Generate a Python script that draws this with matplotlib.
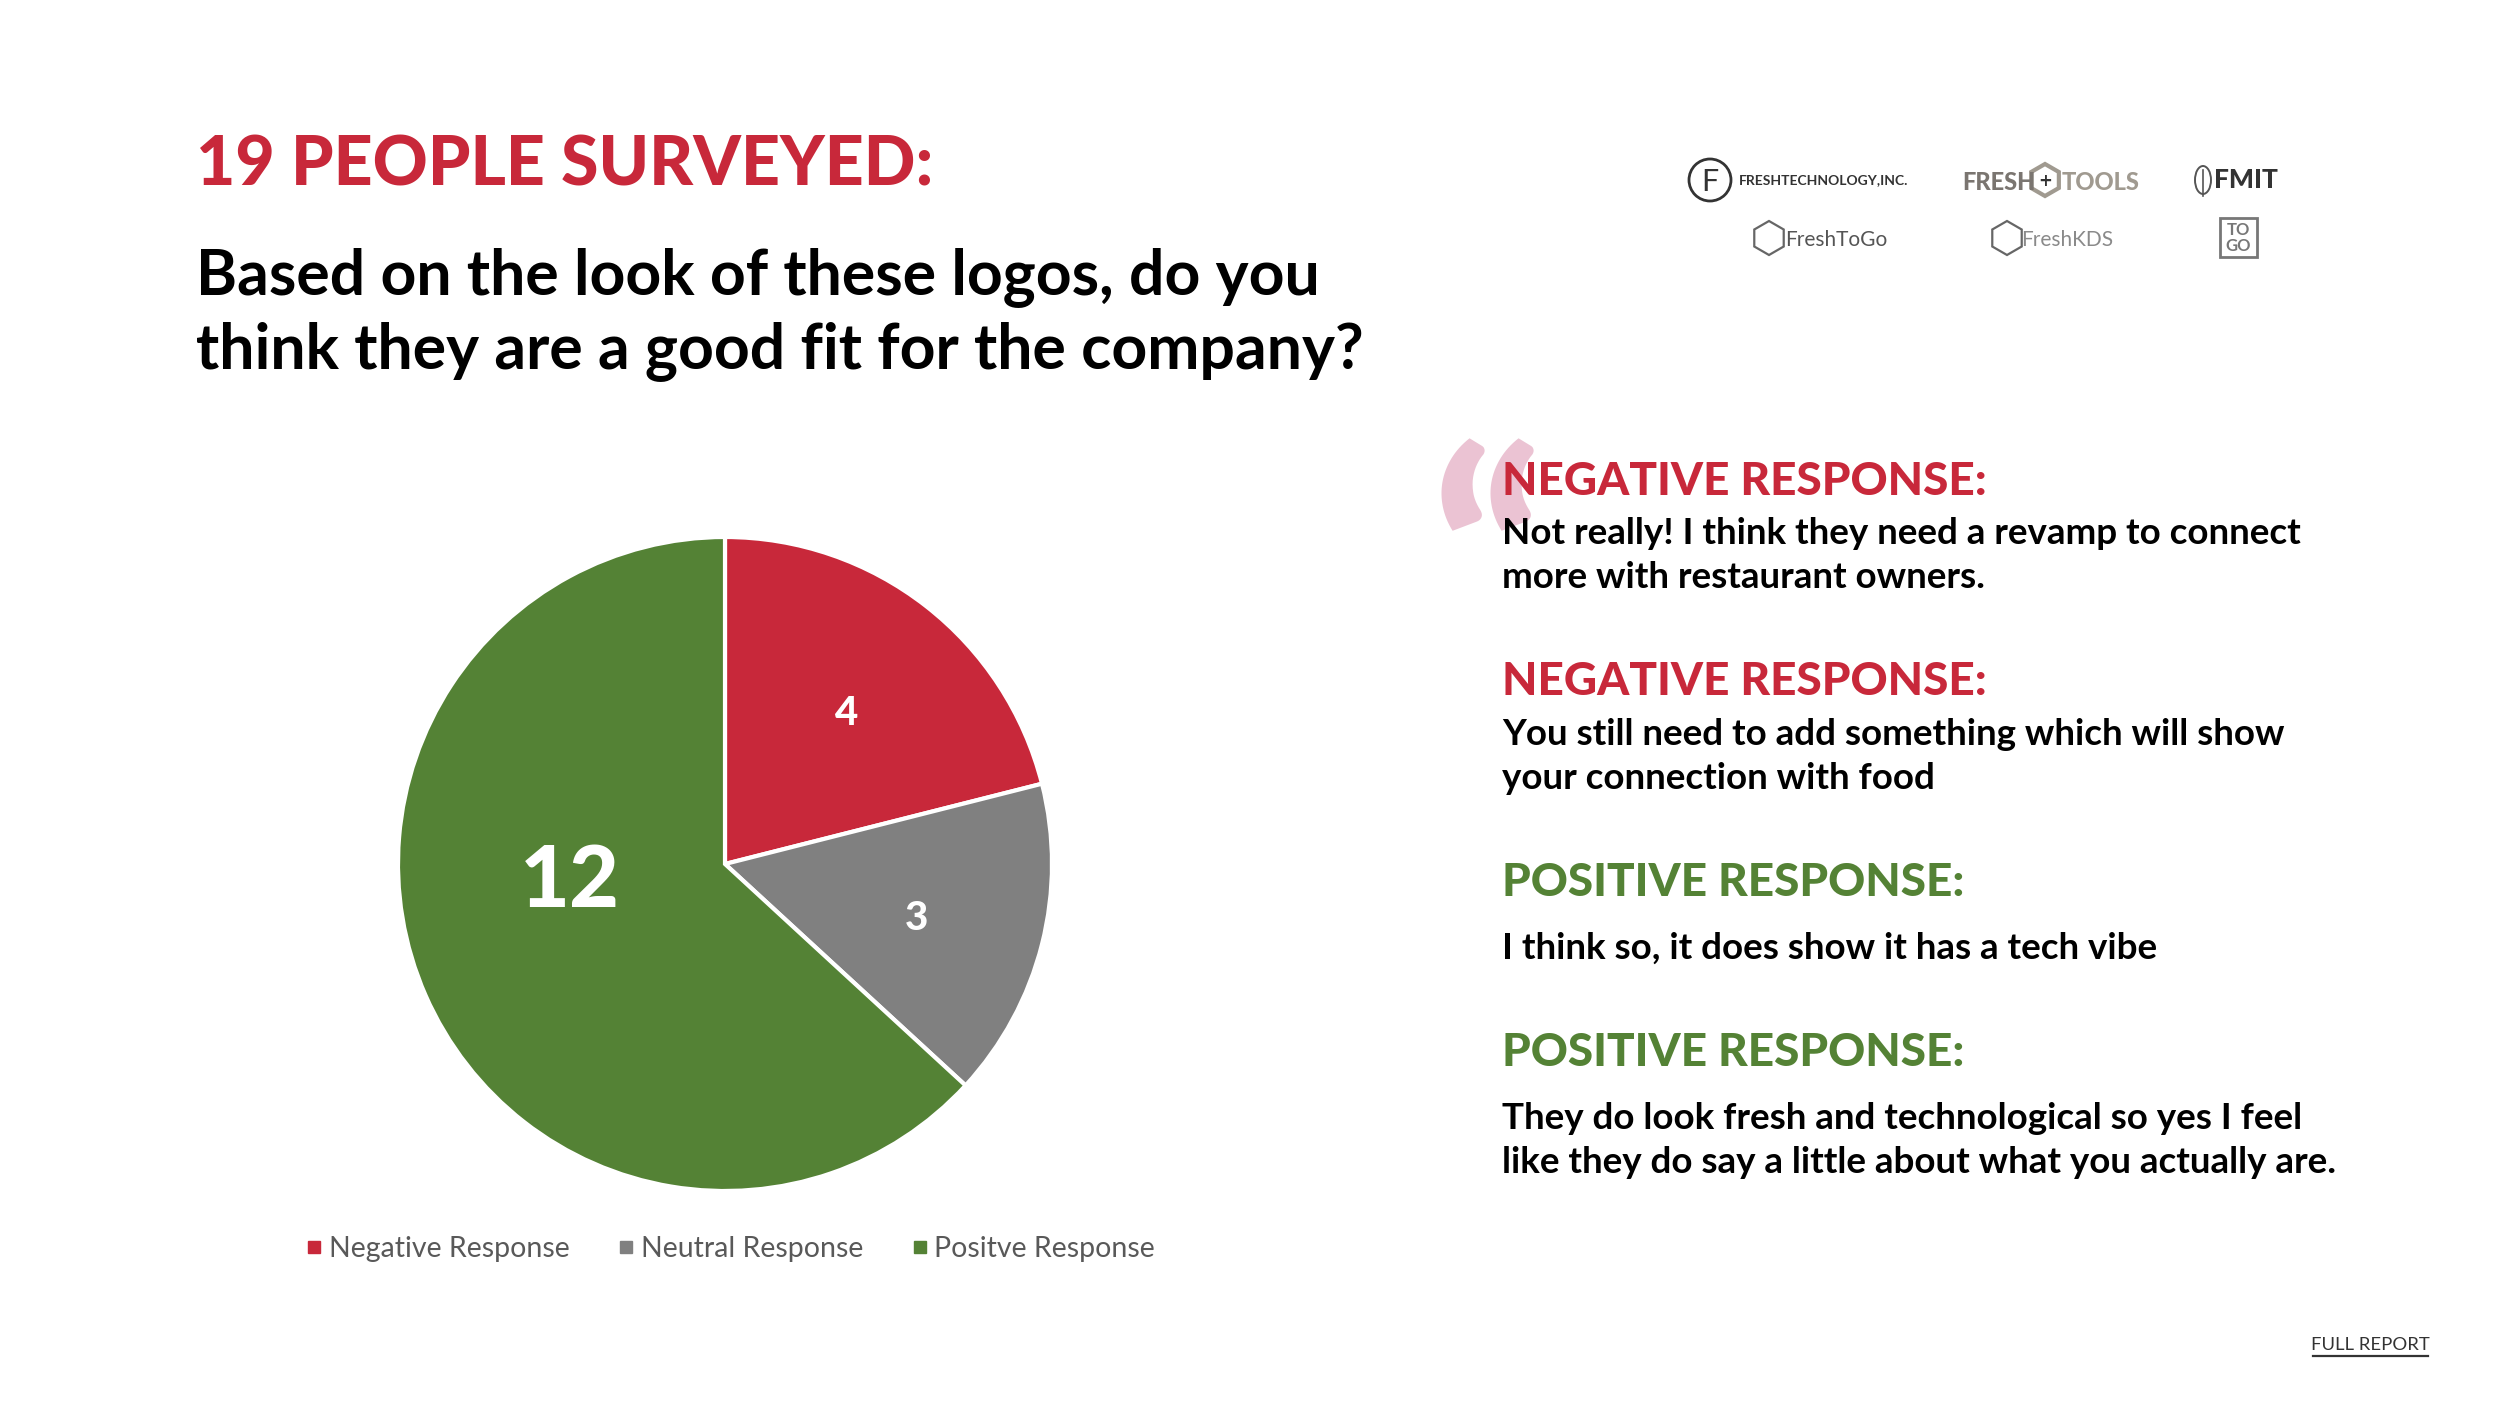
import matplotlib
matplotlib.use("Agg")
import matplotlib.pyplot as plt
import numpy as np
from matplotlib.lines import Line2D
from matplotlib.patches import Circle, Rectangle, RegularPolygon, Ellipse

# survey data
categories = ["Negative Response", "Neutral Response", "Positve Response"]
counts = [4, 3, 12]
colors = ["#c8283a", "#808080", "#548235"]

title = "19 PEOPLE SURVEYED:"
question = ["Based on the look of these logos, do you",
            "think they are a good fit for the company?"]

quote_headers = ["NEGATIVE RESPONSE:", "NEGATIVE RESPONSE:",
                 "POSITIVE RESPONSE:", "POSITIVE RESPONSE:"]
quote_kinds = ["neg", "neg", "pos", "pos"]
quote_bodies = [
    ["Not really! I think they need a revamp to connect",
     "more with restaurant owners."],
    ["You still need to add something which will show",
     "your connection with food"],
    ["I think so, it does show it has a tech vibe"],
    ["They do look fresh and technological so yes I feel",
     "like they do say a little about what you actually are."],
]

RED = "#c8283a"
GREEN = "#548235"
W, H = 2500, 1406

fig = plt.figure(figsize=(W / 100, H / 100), dpi=100)
fig.patch.set_facecolor("white")

# full-figure canvas in pixel coords (y down)
bg = fig.add_axes([0, 0, 1, 1])
bg.set_xlim(0, W)
bg.set_ylim(H, 0)
bg.axis("off")

bg.text(196, 186, title, color=RED, fontsize=49, fontweight="black",
        family="Lato", va="baseline")
for i, line in enumerate(question):
    bg.text(196, 294 + i * 74, line, color="black", fontsize=45,
            fontweight="bold", family="Lato", va="baseline")

# quote mark (sits behind the first header, as in the slide)
bg.text(1431, 662, "\u201c", color="#ebc3d3", fontsize=205,
        fontweight="black", family="Lato", va="baseline", zorder=1)

# responses
header_y = [495, 695, 896, 1066]
body_first = [544, 745, 959, 1129]
for hy, by, hdr, kind, body in zip(header_y, body_first, quote_headers,
                                   quote_kinds, quote_bodies):
    bg.text(1502, hy, hdr, color=RED if kind == "neg" else GREEN,
            fontsize=33, fontweight="black", family="Lato", va="baseline",
            zorder=3)
    for j, line in enumerate(body):
        bg.text(1502, by + j * 44, line, color="black", fontsize=26.5,
                fontweight="bold", family="Lato", va="baseline", zorder=3)

# full report link
bg.text(2370, 1350, "FULL REPORT", color="#333333", fontsize=13.3,
        family="Lato", ha="center", va="baseline")
bg.plot([2313, 2428], [1356, 1356], color="#333333", lw=1.6)

# logo strip
bg.add_patch(Circle((1710, 180), 21, fill=False, ec="#333333", lw=2))
bg.text(1710, 182, "F", color="#333333", fontsize=22, family="Lato",
        ha="center", va="center")
bg.text(1739, 180, "FRESHTECHNOLOGY,INC.", color="#333333", fontsize=10,
        fontweight="bold", family="Lato", va="center")
bg.text(1962, 183, "FRESH", color="#7a7570", fontsize=17,
        fontweight="black", family="Lato", va="center", ha="left")
bg.add_patch(RegularPolygon((2045, 180), 6, radius=16, fill=False,
                            ec="#a09a90", lw=3))
bg.text(2045, 181, "+", color="#333333", fontsize=12, fontweight="bold",
        ha="center", va="center")
bg.text(2062, 183, "TOOLS", color="#a09a90", fontsize=17,
        fontweight="black", family="Lato", va="center", ha="left")
bg.add_patch(Ellipse((2203, 180), 16, 28, fill=False, ec="#555555", lw=1.4))
bg.plot([2203, 2203], [170, 196], color="#555555", lw=1.2)
bg.text(2214, 180, "FMIT", color="#333333", fontsize=19,
        fontweight="black", family="Lato", va="center", ha="left")
bg.add_patch(RegularPolygon((1769, 238), 6, radius=17, fill=False,
                            ec="#666666", lw=1.6))
bg.text(1785, 240, "FreshToGo", color="#555555", fontsize=15,
        family="Lato", va="center")
bg.add_patch(RegularPolygon((2007, 238), 6, radius=17, fill=False,
                            ec="#666666", lw=1.6))
bg.text(2021, 240, "FreshKDS", color="#8a8a8a", fontsize=15,
        family="Lato", va="center")
bg.add_patch(Rectangle((2220, 218), 37, 39, fill=False, ec="#777777",
                       lw=2))
bg.text(2238.5, 230, "TO", color="#777777", fontsize=12, fontweight="bold",
        family="Lato", ha="center", va="center")
bg.text(2238.5, 246, "GO", color="#777777", fontsize=12, fontweight="bold",
        family="Lato", ha="center", va="center")

# pie chart, square box in pixels
cx, cy, r = 725, 864, 327
ax = fig.add_axes([(cx - r) / W, (H - cy - r) / H, 2 * r / W, 2 * r / H])
wedges, _ = ax.pie(counts, colors=colors, startangle=90, counterclock=False,
                   wedgeprops=dict(edgecolor="white", linewidth=3))
ax.set_xlim(-1, 1)
ax.set_ylim(-1, 1)

# value labels placed along each wedge
label_r = [0.607, 0.605, 0.476]
label_shift = [0, 0, -19]
label_size = [29, 29, 62]
for w, n, lr, sh, fs in zip(wedges, counts, label_r, label_shift, label_size):
    ang = np.deg2rad((w.theta1 + w.theta2) / 2 + sh)
    ax.text(lr * np.cos(ang), lr * np.sin(ang) - 0.018, str(n),
            color="white", fontsize=fs, fontweight="black", family="Lato",
            ha="center", va="center")

handles = [Line2D([], [], marker="s", linestyle="", markersize=9,
                  markerfacecolor=c, markeredgecolor=c) for c in colors]
fig.legend(handles, categories, loc="center", ncol=3,
           bbox_to_anchor=(729 / W, 1 - 1249 / H), frameon=False,
           prop=dict(family="Lato", size=20.5), labelcolor="#595959",
           handletextpad=0.1, columnspacing=1.6, handlelength=0.8)

fig.savefig("out.png", dpi=100, facecolor="white")
